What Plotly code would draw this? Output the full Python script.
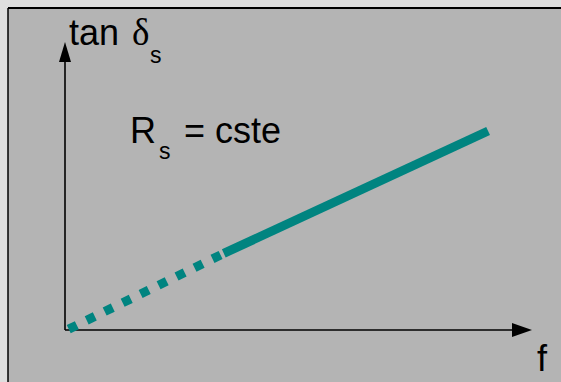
import plotly.graph_objects as go

# ---- data (schematic units) ----
f_dotted = [0.08, 3.40]
tan_dotted = [0.03, 2.66]
f_solid = [3.40, 9.06]
tan_solid = [2.66, 6.91]
axis_f = [0, 10]
axis_tan = [0, 10]

W, H = 561, 382
ML, MT = 8, 8
PX_X0, PX_Y0 = 65, 330          # pixel position of origin
UX, UY = 46.7, 28.8             # pixels per unit
x_range = [(ML - PX_X0) / UX, (W - PX_X0) / UX]
y_range = [(PX_Y0 - H) / UY, (PX_Y0 - MT) / UY]

TEAL = "#008480"
GRAY = "#b4b4b4"

fig = go.Figure()
# axes
fig.add_trace(go.Scatter(x=[axis_f[0], axis_f[1] - 0.2], y=[0, 0], mode="lines",
                         line=dict(color="black", width=1.6), hoverinfo="skip"))
fig.add_trace(go.Scatter(x=[0, 0], y=[axis_tan[0], axis_tan[1] - 0.3], mode="lines",
                         line=dict(color="black", width=1.6), hoverinfo="skip"))
# curve
fig.add_trace(go.Scatter(x=f_dotted, y=tan_dotted, mode="lines",
                         line=dict(color=TEAL, width=9, dash="9px,11px"), hoverinfo="skip"))
fig.add_trace(go.Scatter(x=f_solid, y=tan_solid, mode="lines",
                         line=dict(color=TEAL, width=9), hoverinfo="skip"))

# arrowheads
al_x, aw_x = 20 / UX, 7 / UY
al_y, aw_y = 20 / UY, 6 / UX
fx = axis_f[1]
ty = axis_tan[1]
shapes = [
    dict(type="path", xref="x", yref="y",
         path=f"M{fx},0 L{fx-al_x},{aw_x} L{fx-al_x},{-aw_x} Z",
         fillcolor="black", line=dict(width=0)),
    dict(type="path", xref="x", yref="y",
         path=f"M0,{ty} L{aw_y},{ty-al_y} L{-aw_y},{ty-al_y} Z",
         fillcolor="black", line=dict(width=0)),
    dict(type="line", xref="paper", yref="paper", x0=0, x1=1, y0=1, y1=1,
         line=dict(color="black", width=2)),
    dict(type="line", xref="paper", yref="paper", x0=0, x1=0, y0=0, y1=1,
         line=dict(color="black", width=1.5)),
]

def px(xp):
    return (xp - ML) / (W - ML)

def py(yp):
    return (H - yp) / (H - MT)

SANS = "Liberation Sans, Arial, sans-serif"
SERIF = "Liberation Serif, Times New Roman, serif"
ann = []
def label(text, x, y, size, family=SANS):
    ann.append(dict(text=text, x=px(x), y=py(y), xref="paper", yref="paper",
                    xanchor="center", yanchor="middle", showarrow=False,
                    font=dict(size=size, family=family, color="black")))

label("tan", 94, 32, 36)
label("δ", 140, 32, 37, SERIF)
label("s", 156, 55, 23)
label("R", 143, 130, 36)
label("s", 165, 151, 23)
label("= cste", 232, 130, 36)
label("f", 542, 358, 36)

fig.update_layout(
    width=W, height=H,
    margin=dict(l=ML, t=MT, r=0, b=0),
    paper_bgcolor="#dedede", plot_bgcolor=GRAY,
    showlegend=False,
    xaxis=dict(range=x_range, visible=False, fixedrange=True),
    yaxis=dict(range=y_range, visible=False, fixedrange=True),
    shapes=shapes, annotations=ann,
)
fig.write_html("out.html", config={"displayModeBar": False},
               post_script="document.body.style.margin='0';document.body.style.overflow='hidden';")
